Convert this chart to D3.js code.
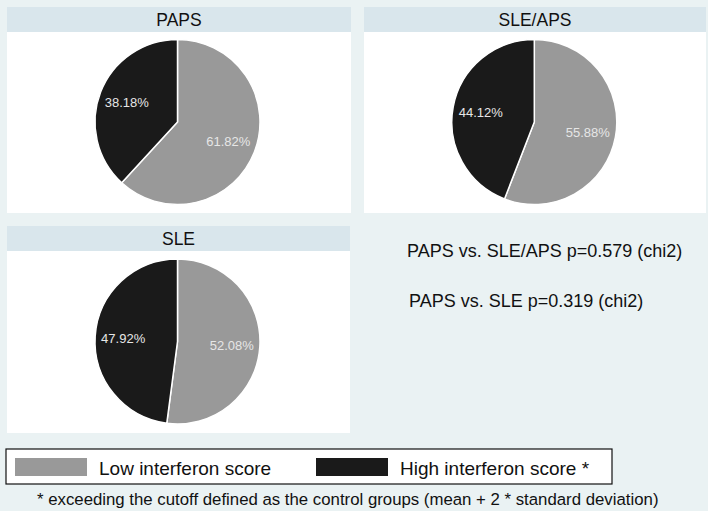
<!DOCTYPE html>
<html><head><meta charset="utf-8">
<script src="https://cdn.jsdelivr.net/npm/d3@7"></script>
<style>html,body{margin:0;padding:0;background:#eaf2f3;}svg{display:block;font-family:Arial,"Liberation Sans",sans-serif;}</style>
</head><body>
<svg id="c" width="708" height="511"></svg>
<script>
const groups = ["PAPS", "SLE/APS", "SLE"];
const categories = ["Low interferon score", "High interferon score *"];
const lowValues = [61.82, 55.88, 52.08];
const highValues = [38.18, 44.12, 47.92];
const statTexts = ["PAPS vs. SLE/APS p=0.579 (chi2)", "PAPS vs. SLE p=0.319 (chi2)"];
const footnote = "* exceeding the cutoff defined as the control groups (mean + 2 * standard deviation)";

const colors = d3.scaleOrdinal().domain(categories).range(["#999999", "#1a1a1a"]);
const svg = d3.select("#c");
svg.append("rect").attr("width", 708).attr("height", 511).attr("fill", "#eaf2f3");

const panels = [
  {x: 7, y: 7, w: 344, h: 206, cx: 170.5},
  {x: 364, y: 7, w: 342, h: 206, cx: 170.3},
  {x: 7, y: 226, w: 343, h: 207, cx: 170.5}
];
const titleH = 25;
const r = 82.5;
const pie = d3.pie().sort(null).value(d => d.v).startAngle(0).endAngle(2 * Math.PI);
const arc = d3.arc().innerRadius(0).outerRadius(r);
const labelArc = d3.arc().innerRadius(r * 0.66).outerRadius(r * 0.66);

groups.forEach((g, i) => {
  const p = panels[i];
  const gp = svg.append("g").attr("transform", `translate(${p.x},${p.y})`);
  gp.append("rect").attr("width", p.w).attr("height", p.h).attr("fill", "#ffffff");
  gp.append("rect").attr("width", p.w).attr("height", titleH).attr("fill", "#d9e6ec");
  gp.append("text").attr("x", p.w / 2).attr("y", titleH / 2 + 6).attr("text-anchor", "middle")
    .attr("font-size", 17.5).attr("fill", "#111").text(g);
  const data = [{c: categories[0], v: lowValues[i]}, {c: categories[1], v: highValues[i]}];
  const cy = titleH + (p.h - titleH) / 2 - 0.5;
  const pg = gp.append("g").attr("transform", `translate(${p.cx},${cy})`);
  const arcs = pie(data);
  pg.selectAll("path").data(arcs).enter().append("path")
    .attr("d", arc).attr("fill", d => colors(d.data.c))
    .attr("stroke", "#ffffff").attr("stroke-width", 1.5).attr("stroke-linejoin", "round");
  pg.selectAll("text").data(arcs).enter().append("text")
    .attr("transform", d => `translate(${labelArc.centroid(d)})`)
    .attr("text-anchor", "middle").attr("dy", "0.36em")
    .attr("font-size", 13).attr("fill", "#e6e6e6")
    .text(d => d3.format(".2f")(d.data.v) + "%");
});

// stats text
svg.append("text").attr("x", 407).attr("y", 257).attr("font-size", 18).attr("fill", "#111").text(statTexts[0]);
svg.append("text").attr("x", 409).attr("y", 307).attr("font-size", 18).attr("fill", "#111").text(statTexts[1]);

// legend
const lg = svg.append("g").attr("transform", "translate(6,449)");
lg.append("rect").attr("x", 0).attr("y", 0).attr("width", 606).attr("height", 35)
  .attr("fill", "#ffffff").attr("stroke", "#111").attr("stroke-width", 1.2);
const legX = [9, 310];
categories.forEach((c, k) => {
  lg.append("rect").attr("x", legX[k]).attr("y", 9).attr("width", 72).attr("height", 18).attr("fill", colors(c));
  lg.append("text").attr("x", legX[k] + 84).attr("y", 25.5).attr("font-size", 19).attr("fill", "#111").text(c);
});

svg.append("text").attr("x", 37).attr("y", 505).attr("font-size", 16.8).attr("fill", "#111").text(footnote);
</script>
</body></html>
